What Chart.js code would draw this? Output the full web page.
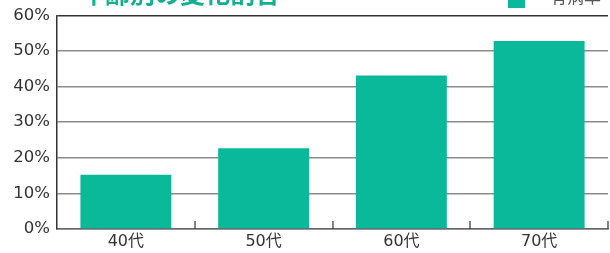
<!DOCTYPE html>
<html>
<head>
<meta charset="utf-8">
<script src="https://cdn.jsdelivr.net/npm/chart.js@4/dist/chart.umd.min.js"></script>
<style>
  html, body { margin: 0; padding: 0; background: #fff; }
  #wrap { width: 610px; height: 253px; position: relative; overflow: hidden; }
</style>
</head>
<body>
<div id="wrap"><canvas id="grafico"></canvas></div>
<script>
// データ
const categorias = ['40代', '50代', '60代', '70代'];
const valores = [15.2, 22.7, 43.1, 52.8];
const tituloTexto = '年齢別の変化割合';
const legendaTexto = '有病率';

const verde = '#0ab89a';
const fonte = '"DejaVu Sans", "Noto Sans CJK JP", sans-serif';

// 上部のタイトルと凡例（画像では上端で切れている）
const cabecalho = {
    id: 'cabecalho',
    afterDraw(chart) {
        const { ctx } = chart;
        ctx.save();
        ctx.textBaseline = 'alphabetic';
        ctx.fillStyle = '#12b08f';
        ctx.font = 'bold 25px "Noto Sans CJK JP", sans-serif';
        ctx.fillText(tituloTexto, 80, 3);
        ctx.fillStyle = verde;
        ctx.fillRect(508, -9, 17, 17);
        ctx.fillStyle = '#555';
        ctx.font = '17px "Noto Sans CJK JP", sans-serif';
        ctx.fillText(legendaTexto, 550, 3);
        ctx.restore();
    }
};

// カテゴリ境界の短い目盛り（内側向き）
const marcas = {
    id: 'marcas',
    afterDatasetsDraw(chart) {
        const { ctx, chartArea } = chart;
        const x = chart.scales.x;
        const passo = x.getPixelForValue(1) - x.getPixelForValue(0);
        ctx.save();
        ctx.strokeStyle = '#333';
        ctx.lineWidth = 1.2;
        for (let i = 0; i < categorias.length; i++) {
            const pos = Math.round(x.getPixelForValue(i) + passo / 2);
            ctx.beginPath();
            ctx.moveTo(pos, chartArea.bottom);
            ctx.lineTo(pos, chartArea.bottom - 8);
            ctx.stroke();
        }
        ctx.restore();
    }
};

new Chart(document.getElementById('grafico'), {
    type: 'bar',
    data: {
        labels: categorias,
        datasets: [{
            label: legendaTexto,
            data: valores,
            backgroundColor: verde,
            borderWidth: 0,
            categoryPercentage: 1,
            barPercentage: 0.66
        }]
    },
    options: {
        responsive: true,
        maintainAspectRatio: false,
        animation: false,
        layout: { padding: { top: 12, right: 2, left: 0, bottom: 0 } },
        plugins: {
            legend: { display: false },
            title: { display: false },
            tooltip: { enabled: false }
        },
        scales: {
            x: {
                grid: { display: false, drawTicks: false },
                border: { display: true, color: '#666', width: 1.5 },
                ticks: {
                    color: '#333',
                    padding: 3,
                    font: { family: fonte, size: 16 }
                },
                afterFit(scale) { scale.height = 24; }
            },
            y: {
                min: 0,
                max: 60,
                ticks: {
                    stepSize: 10,
                    color: '#333',
                    padding: 7,
                    font: { family: fonte, size: 16.5, lineHeight: 1 },
                    callback: v => v + '%'
                },
                grid: {
                    drawTicks: false,
                    color: ctx => ctx.index === 6 ? '#333' : '#8c8c8c',
                    lineWidth: 1.5
                },
                border: { display: true, color: '#333', width: 1.5 },
                afterFit(scale) { scale.width = 57; }
            }
        }
    },
    plugins: [cabecalho, marcas]
});
</script>
</body>
</html>
